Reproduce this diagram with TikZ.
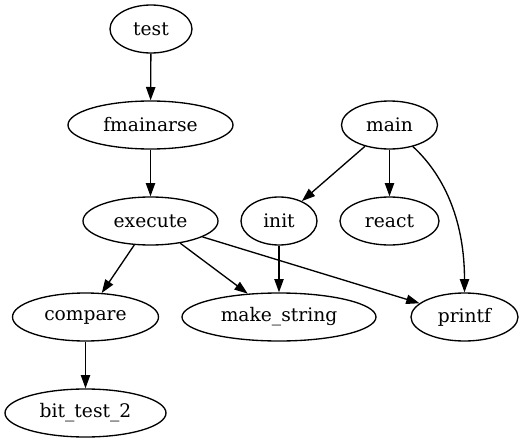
\documentclass[tikz,border=0pt]{standalone}
\usepackage{fontspec}
\setmainfont{DejaVu Serif}
\usetikzlibrary{shapes.geometric,arrows.meta}
\begin{document}
\begin{tikzpicture}[x=0.75pt,y=-0.75pt,
  nd/.style={draw, ellipse, inner sep=0pt, minimum height=36pt, line width=1pt, font=\fontsize{14}{16}\selectfont},
  edge/.style={draw, line width=1pt, -{Triangle[length=10pt,width=7pt]}}]
\useasboundingbox (0,0) rectangle (522,443);
\node[nd, minimum width=61.5pt] (test) at (151,29) {test};
\node[nd, minimum width=123.75pt] (fmainarse) at (150.5,125) {fmainarse};
\node[nd, minimum width=72pt] (main) at (389.5,125) {main};
\node[nd, minimum width=101.25pt] (execute) at (150.5,221) {execute};
\node[nd, minimum width=57pt] (init) at (279,221) {init};
\node[nd, minimum width=74.25pt] (react) at (389.5,221) {react};
\node[nd, minimum width=109.5pt] (compare) at (85.5,317) {compare};
\node[nd, minimum width=145.5pt] (make) at (279,317) {make\_string};
\node[nd, minimum width=80.25pt] (printf) at (464.5,317) {printf};
\node[nd, minimum width=120.75pt] (bit) at (85.5,413) {bit\_test\_2};
\draw[edge] (test) -- (fmainarse);
\draw[edge] (fmainarse) -- (execute);
\draw[edge] (execute) -- (compare);
\draw[edge] (execute) -- (make);
\draw[edge] (execute) -- (printf);
\draw[edge] (main) -- (init);
\draw[edge] (main) -- (react);
\draw[edge] (main) .. controls (447,178) and (464.5,225) .. (printf);
\draw[edge] (init) -- (make);
\draw[edge] (compare) -- (bit);
\end{tikzpicture}
\end{document}
